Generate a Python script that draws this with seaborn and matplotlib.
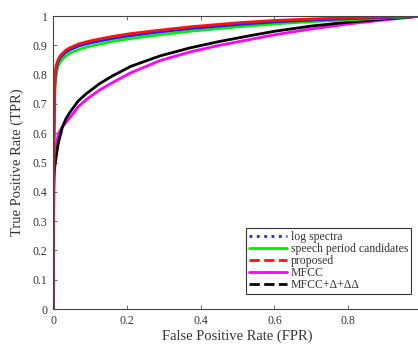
import numpy as np
import pandas as pd
import matplotlib
matplotlib.use("Agg")
import matplotlib.pyplot as plt
from matplotlib.lines import Line2D
from matplotlib.ticker import FuncFormatter
import seaborn as sns

# ROC curves: false positive rate vs true positive rate per feature set
fpr_a = [0, 0.002, 0.004, 0.008, 0.014, 0.02, 0.033, 0.046, 0.07, 0.1, 0.127,
         0.16, 0.21, 0.29, 0.37, 0.5, 0.6, 0.7, 0.8, 0.9, 1.0]
tpr_log_spectra = [0, 0.55, 0.76, 0.82, 0.845, 0.858, 0.875, 0.885, 0.898, 0.908, 0.915,
                   0.923, 0.933, 0.946, 0.957, 0.971, 0.98, 0.986, 0.991, 0.995, 1.0]
tpr_speech_period = [0, 0.5, 0.72, 0.80, 0.83, 0.844, 0.862, 0.873, 0.886, 0.897, 0.904,
                     0.913, 0.923, 0.936, 0.948, 0.963, 0.973, 0.981, 0.987, 0.993, 1.0]
tpr_proposed = [0, 0.6, 0.78, 0.83, 0.852, 0.865, 0.882, 0.892, 0.905, 0.915, 0.922,
                0.93, 0.94, 0.952, 0.963, 0.977, 0.985, 0.99, 0.994, 0.997, 1.0]

fpr_mfcc = [0, 0.002, 0.005, 0.01, 0.015, 0.025, 0.035, 0.05, 0.068, 0.09, 0.127,
            0.16, 0.21, 0.29, 0.37, 0.45, 0.534, 0.6, 0.7, 0.8, 0.9, 1.0]
tpr_mfcc = [0, 0.42, 0.52, 0.57, 0.6, 0.622, 0.637, 0.66, 0.69, 0.715, 0.748,
            0.772, 0.806, 0.848, 0.877, 0.9, 0.92, 0.936, 0.956, 0.973, 0.987, 1.0]

fpr_mfcc_d = [0, 0.002, 0.004, 0.007, 0.014, 0.025, 0.035, 0.046, 0.068, 0.09, 0.127,
              0.16, 0.21, 0.29, 0.37, 0.45, 0.534, 0.6, 0.7, 0.8, 0.9, 1.0]
tpr_mfcc_d = [0, 0.45, 0.48, 0.508, 0.565, 0.62, 0.65, 0.672, 0.71, 0.735, 0.77,
              0.795, 0.828, 0.864, 0.891, 0.913, 0.933, 0.948, 0.966, 0.979, 0.99, 1.0]

labels = ["log spectra", "speech period candidates", "proposed", "MFCC",
          "MFCC+\u0394+\u0394\u0394"]

curves = [
    (fpr_a, tpr_log_spectra, "#2020ff", ":"),
    (fpr_a, tpr_speech_period, "#00ee00", "-"),
    (fpr_a, tpr_proposed, "#ff1010", "--"),
    (fpr_mfcc, tpr_mfcc, "#ff00ff", "-"),
    (fpr_mfcc_d, tpr_mfcc_d, "#000000", "--"),
]

sns.set_theme(style="ticks")
plt.rcParams["font.family"] = ["Liberation Serif", "DejaVu Serif"]

fig = plt.figure(figsize=(4.18, 3.49), dpi=100)
ax = fig.add_axes([0.127, 0.1146, 0.8826, 0.8394])

# draw order: keep proposed on top
order = [3, 4, 1, 0, 2]
for i in order:
    x, y, c, _ = curves[i]
    df = pd.DataFrame({"FPR": x, "TPR": y})
    sns.lineplot(data=df, x="FPR", y="TPR", ax=ax, color=c, lw=2.0,
                 sort=False, estimator=None, legend=False)

ax.set_xlim(0, 1)
ax.set_ylim(0, 1)
ax.set_xticks([0, 0.2, 0.4, 0.6, 0.8])
ax.set_yticks(np.round(np.arange(0, 1.01, 0.1), 1))
fmt = FuncFormatter(lambda v, p: ("%g" % v))
ax.xaxis.set_major_formatter(fmt)
ax.yaxis.set_major_formatter(fmt)
ax.tick_params(direction="in", length=3, width=0.6, labelsize=8.5,
               top=True, right=True, colors="#555555", labelcolor="#333333", pad=4)
for s in ax.spines.values():
    s.set_linewidth(0.8)
    s.set_color("#444444")

ax.set_xlabel("False Positive Rate (FPR)", fontsize=10.5, color="#333333", labelpad=2)
ax.set_ylabel("True Positive Rate (TPR)", fontsize=10.5, color="#333333", labelpad=6)

handles = [Line2D([0], [0], color=c, lw=2.0, ls=ls) for (_, _, c, ls) in curves]
leg = ax.legend(handles, labels, loc="lower right", bbox_to_anchor=(0.97, 0.051),
                borderaxespad=0, fontsize=8.5, frameon=True, fancybox=False,
                handlelength=3.2, handletextpad=0.3, labelspacing=0.0,
                borderpad=0.25, framealpha=1)
leg.get_frame().set_edgecolor("#333333")
leg.get_frame().set_linewidth(0.8)
for t in leg.get_texts():
    t.set_color("#333333")

fig.savefig("out.png", dpi=100)
